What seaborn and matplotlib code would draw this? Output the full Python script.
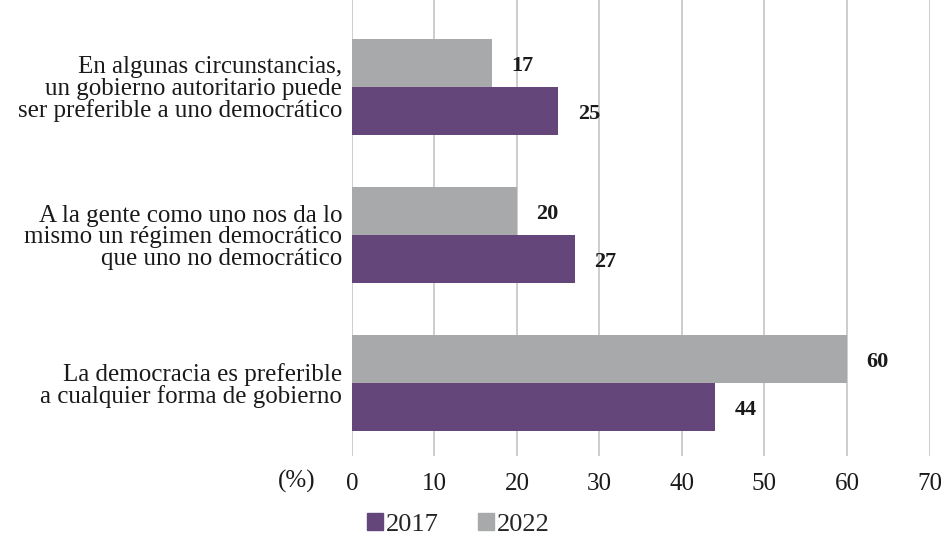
import matplotlib
matplotlib.use("Agg")
import matplotlib.pyplot as plt
import pandas as pd
import seaborn as sns
from matplotlib.patches import Patch

# data
categories = [
    "En algunas circunstancias,\nun gobierno autoritario puede\nser preferible a uno democrático",
    "A la gente como uno nos da lo\nmismo un régimen democrático\nque uno no democrático",
    "La democracia es preferible\na cualquier forma de gobierno",
]
values_2017 = [25, 27, 44]
values_2022 = [17, 20, 60]
years = ["2022", "2017"]
x_ticks = [0, 10, 20, 30, 40, 50, 60, 70]

PURPLE = "#64467a"
GRAY = "#a8a9ab"

df = pd.DataFrame({
    "categoria": categories * 2,
    "valor": values_2022 + values_2017,
    "año": ["2022"] * 3 + ["2017"] * 3,
})

sns.set_style("white")
plt.rcParams["font.family"] = ["Liberation Serif", "DejaVu Serif"]

fig = plt.figure(figsize=(9.41, 5.39), dpi=100)
ax = fig.add_axes([0.374, 0.154, 0.6138, 0.846])

sns.barplot(data=df, y="categoria", x="valor", hue="año", hue_order=years,
            palette={"2022": GRAY, "2017": PURPLE}, orient="h", width=0.65,
            saturation=1, linewidth=0, ax=ax, legend=False)

# value labels, nudged slightly below bar centre as in the original
for c in ax.containers:
    labels = ax.bar_label(c, padding=14, fontsize=16, fontweight="bold", color="#1a1a1a")
    for t in labels:
        x0, y0 = t.xyann
        t.xyann = (x0, y0 - 2)

ax.set_xlim(0, 70)
ax.set_ylim(2.493, -0.588)
ax.set_xticks(x_ticks)
ax.grid(axis="x", color="#c0c0c0", linewidth=1.1)
ax.set_axisbelow(True)
for s in ax.spines.values():
    s.set_visible(False)
ax.tick_params(axis="both", length=0, labelsize=18, colors="#1a1a1a")
ax.tick_params(axis="x", pad=12)
ax.tick_params(axis="y", pad=7)
for lab in ax.get_yticklabels():
    lab.set_multialignment("right")
    lab.set_linespacing(0.96)
ax.set_xlabel("")
ax.set_ylabel("")

ax.text(-0.095, -0.055, "(%)", transform=ax.transAxes, ha="center", va="center",
        fontsize=18, color="#1a1a1a")

handles = [Patch(color=PURPLE, label="2017"), Patch(color=GRAY, label="2022")]
fig.legend(handles=handles, loc="lower center", bbox_to_anchor=(0.487, -0.038), ncol=2,
           frameon=False, fontsize=19, handlelength=0.6, handleheight=0.6,
           handletextpad=0.1, columnspacing=1.5)

fig.savefig("out.png", dpi=100)
